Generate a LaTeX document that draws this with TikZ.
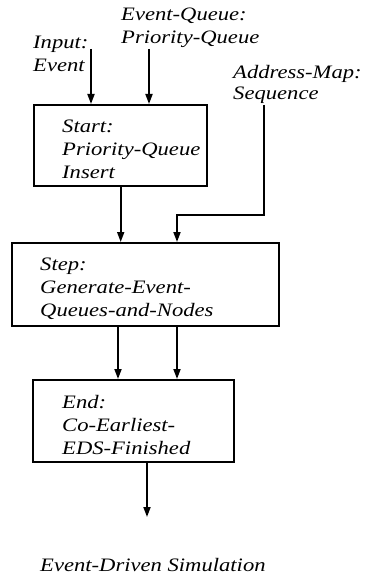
\documentclass[tikz,border=0pt]{standalone}
\usepackage{fontspec}
\setmainfont{Liberation Serif}[FakeStretch=1.19]
\usetikzlibrary{positioning,arrows.meta,calc}

\begin{document}
\begin{tikzpicture}[x=1pt,y=-1pt,
    box/.style={draw,line width=2.4pt,anchor=north west,inner sep=0pt},
    txt/.style={anchor=base west,align=left,inner sep=0pt,font=\fontsize{19}{23}\selectfont\itshape},
    arr/.style={line width=1.8pt,-{Triangle[length=10pt,width=7pt]}}
  ]
  \useasboundingbox (0,0) rectangle (366,575);

  % the three stages
  \node[box,minimum width=173pt,minimum height=81pt] (start) at (33,104) {};
  \node[box,minimum width=267pt,minimum height=83pt] (step) at (11,242) {};
  \node[box,minimum width=201pt,minimum height=82pt] (end) at (32,379) {};

  % base = last line
  \node[txt] (starttxt) at (62,178) {Start:\\Priority-Queue\\Insert};
  \node[txt] (steptxt) at (40,316) {Step:\\Generate-Event-\\Queues-and-Nodes};
  \node[txt] (endtxt) at (62,454) {End:\\Co-Earliest-\\EDS-Finished};

  % inputs and output
  \node[txt] (input) at (33,72) {Input:\\Event};
  \node[txt] (queue) at (121,44) {Event-Queue:\\Priority-Queue};
  \node[txt] (amap) at (233,100) {Address-Map:\\[-2pt]Sequence};
  \node[txt] (result) at (40,571) {Event-Driven Simulation};

  \coordinate (inA) at (91,49);
  \coordinate (inB) at (149,49);
  \coordinate (inC) at (264,105);
  \coordinate (bend) at (177,215);
  \coordinate (out) at (147,517);

  \draw[arr] (inA) -- (inA |- start.north);
  \draw[arr] (inB) -- (inB |- start.north);
  \draw[arr] (start.south) -- (start.south |- step.north);
  \draw[arr] (inC) |- (bend) -- (bend |- step.north);
  \foreach \x in {118,177} {
    \draw[arr] (\x,0 |- step.south) -- (\x,0 |- end.north);
  }
  \draw[arr] (out |- end.south) -- (out);
\end{tikzpicture}
\end{document}
